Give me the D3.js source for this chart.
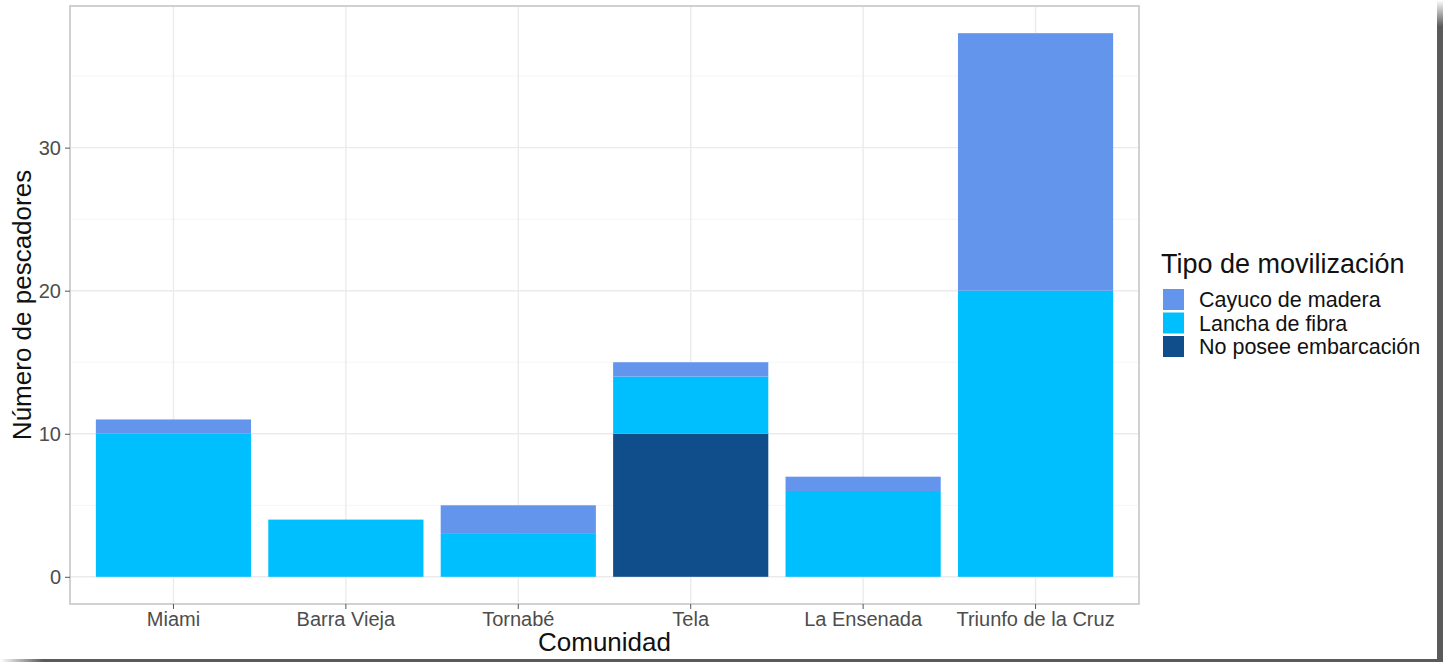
<!DOCTYPE html>
<html><head><meta charset="utf-8">
<script src="https://cdn.jsdelivr.net/npm/d3@7"></script>
<style>body{margin:0;background:#fff;}svg{display:block;font-family:"Liberation Sans",Arial,sans-serif;}</style>
</head><body>
<script>
const categories = ["Miami","Barra Vieja","Tornabé","Tela","La Ensenada","Triunfo de la Cruz"];
const seriesNames = ["Cayuco de madera","Lancha de fibra","No posee embarcación"];
const noPosee = [0,0,0,10,0,0];
const lancha = [10,4,3,4,6,20];
const cayuco = [1,0,2,1,1,18];
const yTicks = [0,10,20,30];
const colors = ["#6495ED","#00BFFF","#104E8B"];

const W=1443,H=662;
const svg=d3.select("body").append("svg").attr("width",W).attr("height",H);
svg.append("rect").attr("width",W).attr("height",H).attr("fill","#fff");

const pL=70,pR=1139,pT=6,pB=604;
const rows = categories.map((c,i)=>({cat:c,"No posee embarcación":noPosee[i],"Lancha de fibra":lancha[i],"Cayuco de madera":cayuco[i]}));
const stackOrder=["No posee embarcación","Lancha de fibra","Cayuco de madera"];
const stacked=d3.stack().keys(stackOrder)(rows);
const maxV=d3.max(rows,r=>r["No posee embarcación"]+r["Lancha de fibra"]+r["Cayuco de madera"]);
const y=d3.scaleLinear().domain([-maxV*0.05,maxV*1.05]).range([pB,pT]);
const x=d3.scaleBand().domain(categories).range([pL,pR]).paddingInner(0.1).paddingOuter(0.15);
const color=d3.scaleOrdinal().domain(seriesNames).range(colors);

// grid
const g=svg.append("g");
const minor=d3.range(5,maxV*1.05,10);
g.selectAll(".mn").data(minor).join("line").attr("x1",pL).attr("x2",pR).attr("y1",d=>y(d)).attr("y2",d=>y(d)).attr("stroke","#f2f2f2").attr("stroke-width",0.8);
g.selectAll(".mj").data(yTicks).join("line").attr("x1",pL).attr("x2",pR).attr("y1",d=>y(d)).attr("y2",d=>y(d)).attr("stroke","#ebebeb").attr("stroke-width",1.4);
g.selectAll(".vx").data(categories).join("line").attr("x1",d=>x(d)+x.bandwidth()/2).attr("x2",d=>x(d)+x.bandwidth()/2).attr("y1",pT).attr("y2",pB).attr("stroke","#ebebeb").attr("stroke-width",1.4);

// bars
svg.append("g").selectAll("g").data(stacked).join("g").attr("fill",d=>color(d.key))
 .selectAll("rect").data(d=>d).join("rect")
 .attr("x",d=>x(d.data.cat)).attr("width",x.bandwidth())
 .attr("y",d=>y(d[1])).attr("height",d=>Math.max(0,y(d[0])-y(d[1])));

// panel border
svg.append("rect").attr("x",pL).attr("y",pT).attr("width",pR-pL).attr("height",pB-pT).attr("fill","none").attr("stroke","#cccccc").attr("stroke-width",1.8);

// axes
const ya=svg.append("g").attr("transform",`translate(${pL},0)`).call(d3.axisLeft(y).tickValues(yTicks).tickSize(5).tickPadding(4));
ya.select(".domain").remove();
ya.selectAll("line").attr("stroke","#555");
ya.selectAll("text").attr("fill","#4d4d4d").style("font-size","20px").style("font-family","'Liberation Sans',Arial,sans-serif");
const xa=svg.append("g").attr("transform",`translate(0,${pB})`).call(d3.axisBottom(x).tickSize(5).tickPadding(3));
xa.select(".domain").remove();
xa.selectAll("line").attr("stroke","#555");
xa.selectAll("text").attr("fill","#4d4d4d").style("font-size","20px").style("font-family","'Liberation Sans',Arial,sans-serif");

svg.append("text").attr("x",(pL+pR)/2).attr("y",651).attr("text-anchor","middle").style("font-size","26px").attr("fill","#111").text("Comunidad");
svg.append("text").attr("transform",`translate(31,${(pT+pB)/2}) rotate(-90)`).attr("text-anchor","middle").style("font-size","26px").attr("fill","#111").text("Número de pescadores");

// legend
const lg=svg.append("g");
lg.append("text").attr("x",1161).attr("y",273).style("font-size","27px").attr("fill","#111").text("Tipo de movilización");
seriesNames.forEach((s,i)=>{
  lg.append("rect").attr("x",1163).attr("y",289+i*23.5).attr("width",21).attr("height",21).attr("fill",color(s));
  lg.append("text").attr("x",1199).attr("y",307+i*23.5).style("font-size","21.5px").attr("fill","#111").text(s);
});

// frame shadow
const defs=svg.append("defs");
const gv=defs.append("linearGradient").attr("id","gv").attr("x1",0).attr("y1",0).attr("x2",0).attr("y2",1);
gv.append("stop").attr("offset","0").attr("stop-color","#fff");
gv.append("stop").attr("offset","0.04").attr("stop-color","#5a5a5a");
gv.append("stop").attr("offset","1").attr("stop-color","#5a5a5a");
const gh=defs.append("linearGradient").attr("id","gh").attr("x1",0).attr("y1",0).attr("x2",1).attr("y2",0);
gh.append("stop").attr("offset","0").attr("stop-color","#fff");
gh.append("stop").attr("offset","0.03").attr("stop-color","#5a5a5a");
gh.append("stop").attr("offset","1").attr("stop-color","#5a5a5a");
svg.append("rect").attr("x",1437).attr("y",0).attr("width",6).attr("height",H).attr("fill","url(#gv)");
svg.append("rect").attr("x",0).attr("y",659).attr("width",1440).attr("height",3).attr("fill","url(#gh)");
</script>
</body></html>
